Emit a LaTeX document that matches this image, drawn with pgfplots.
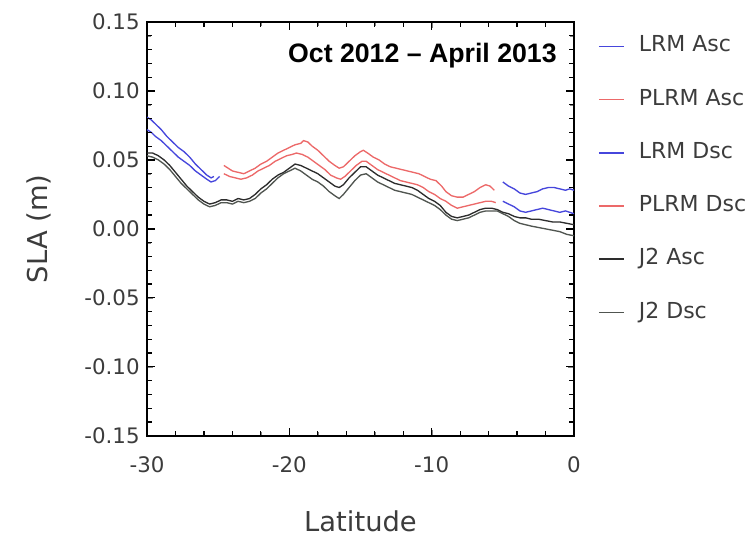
\documentclass[border=0pt]{standalone}
\usepackage{fontspec}
\setmainfont{DejaVu Sans}
\newfontfamily\titlefont{Liberation Sans}
\usepackage{pgfplots}
\pgfplotsset{compat=1.18}
\definecolor{lrm}{RGB}{70,70,220}
\definecolor{plrm}{RGB}{236,105,105}
\definecolor{jA}{RGB}{45,45,45}
\definecolor{jD}{RGB}{80,85,80}
\definecolor{txt}{RGB}{60,60,60}
\pgfkeys{/pgf/number format/assume math mode=true}
\begin{document}
\begin{tikzpicture}
\begin{axis}[
  width=320pt, height=310pt, scale only axis,
  xmin=-30, xmax=0, ymin=-0.15, ymax=0.15,
  xtick={-30,-20,-10,0}, minor x tick num=4,
  ytick={-0.15,-0.10,-0.05,0,0.05,0.10,0.15}, minor y tick num=4,
  yticklabel style={/pgf/number format/fixed, /pgf/number format/fixed zerofill, /pgf/number format/precision=2, /pgf/number format/assume math mode=true, xshift=-2pt},
  xticklabel style={/pgf/number format/assume math mode=true, yshift=-12.5pt},
  axis line style={line width=1.3pt},
  ticklabel style={font=\fontsize{16pt}{18pt}\selectfont, text=txt},
  xlabel={Latitude}, ylabel={SLA (m)},
  label style={font=\fontsize{20.5pt}{23pt}\selectfont, text=txt},
  xlabel style={at={(rel axis cs:0.5,-0.206)}, anchor=center},
  ylabel style={at={(rel axis cs:-0.253,0.5)}, anchor=center},
  unbounded coords=jump,
  legend style={draw=none, fill=none, at={(rel axis cs:1.056,0.967)}, anchor=north west,
    font=\fontsize{16.5pt}{18pt}\selectfont, text=txt, inner sep=0pt, row sep=24.4pt, column sep=10.5pt,
    nodes={inner xsep=0pt, inner ysep=0pt, text height=12pt, text depth=3.5pt}},
  legend cell align=left,
  legend image code/.code={\draw[#1, line width=1.2pt] (0pt,0pt) -- (18.75pt,0pt);},
]
% LRM Asc
\addplot[lrm, line width=1pt] coordinates {
(-30,0.081) (-29.7,0.079) (-29.4,0.076) (-29,0.072) (-28.6,0.067) (-28.2,0.063) (-27.8,0.059) (-27.4,0.056) (-27,0.052) (-26.6,0.047) (-26.2,0.043) (-25.8,0.039) (-25.5,0.037) (-25.3,0.038)
(-25.2,nan)
(-5,0.034) (-4.6,0.031) (-4.2,0.029) (-3.8,0.026) (-3.4,0.025) (-3,0.026) (-2.6,0.027) (-2.2,0.029) (-1.8,0.030) (-1.4,0.030) (-1,0.029) (-0.6,0.028) (-0.3,0.029) (0,0.028)};
\addlegendentry{LRM Asc}
% PLRM Asc
\addplot[plrm, line width=1pt] coordinates {
(-24.6,0.046) (-24.3,0.044) (-24,0.042) (-23.6,0.041) (-23.2,0.040) (-22.8,0.042) (-22.4,0.044) (-22,0.047) (-21.6,0.049) (-21.2,0.052) (-20.8,0.055) (-20.4,0.057) (-20,0.059) (-19.6,0.061) (-19.2,0.062) (-19,0.064) (-18.7,0.063) (-18.4,0.060) (-18,0.057) (-17.6,0.053) (-17.2,0.049) (-16.8,0.046) (-16.5,0.044) (-16.2,0.045) (-15.8,0.049) (-15.4,0.053) (-15,0.056) (-14.8,0.057) (-14.5,0.055) (-14.1,0.052) (-13.7,0.050) (-13.3,0.047) (-12.9,0.045) (-12.5,0.044) (-12.1,0.043) (-11.7,0.042) (-11.3,0.041) (-10.9,0.040) (-10.5,0.038) (-10.1,0.036) (-9.7,0.035) (-9.3,0.031) (-9,0.027) (-8.6,0.024) (-8.2,0.023) (-7.8,0.023) (-7.4,0.025) (-7,0.027) (-6.6,0.030) (-6.2,0.032) (-5.9,0.031) (-5.6,0.028)};
\addlegendentry{PLRM Asc}
% LRM Dsc
\addplot[lrm, line width=1pt] coordinates {
(-30,0.072) (-29.7,0.070) (-29.4,0.067) (-29,0.064) (-28.6,0.060) (-28.2,0.056) (-27.8,0.052) (-27.4,0.049) (-27,0.046) (-26.6,0.042) (-26.2,0.039) (-25.8,0.036) (-25.5,0.034) (-25.2,0.035) (-24.9,0.038)
(-24.8,nan)
(-5,0.020) (-4.6,0.018) (-4.2,0.016) (-3.8,0.013) (-3.4,0.012) (-3,0.013) (-2.6,0.014) (-2.2,0.015) (-1.8,0.014) (-1.4,0.013) (-1,0.012) (-0.6,0.013) (-0.3,0.012) (0,0.011)};
\addlegendentry{LRM Dsc}
% PLRM Dsc
\addplot[plrm, line width=1pt] coordinates {
(-24.6,0.040) (-24.2,0.038) (-23.8,0.037) (-23.4,0.036) (-23,0.037) (-22.6,0.039) (-22.2,0.042) (-21.8,0.044) (-21.4,0.046) (-21,0.049) (-20.6,0.051) (-20.2,0.053) (-19.8,0.054) (-19.5,0.055) (-19.1,0.054) (-18.7,0.052) (-18.3,0.049) (-17.9,0.046) (-17.5,0.043) (-17.1,0.039) (-16.7,0.037) (-16.4,0.036) (-16.1,0.038) (-15.7,0.042) (-15.3,0.046) (-14.9,0.049) (-14.6,0.049) (-14.2,0.046) (-13.8,0.043) (-13.4,0.041) (-13,0.039) (-12.6,0.037) (-12.2,0.035) (-11.8,0.034) (-11.4,0.033) (-11,0.032) (-10.6,0.030) (-10.2,0.027) (-9.8,0.025) (-9.4,0.022) (-9,0.020) (-8.6,0.017) (-8.2,0.015) (-7.8,0.016) (-7.4,0.017) (-7,0.018) (-6.6,0.019) (-6.2,0.020) (-5.8,0.020) (-5.5,0.019)};
\addlegendentry{PLRM Dsc}
% J2 Asc
\addplot[jA, line width=1pt] coordinates {
(-30,0.055) (-29.6,0.055) (-29.2,0.053) (-28.8,0.050) (-28.4,0.046) (-28,0.041) (-27.6,0.036) (-27.2,0.031) (-26.8,0.027) (-26.4,0.023) (-26,0.020) (-25.6,0.018) (-25.2,0.019) (-24.8,0.021) (-24.4,0.021) (-24,0.020) (-23.6,0.022) (-23.2,0.021) (-22.8,0.022) (-22.4,0.025) (-22,0.029) (-21.6,0.032) (-21.2,0.036) (-20.8,0.039) (-20.4,0.041) (-20,0.044) (-19.6,0.047) (-19.2,0.046) (-18.8,0.044) (-18.4,0.042) (-18,0.040) (-17.6,0.037) (-17.2,0.034) (-16.8,0.031) (-16.5,0.030) (-16.2,0.032) (-15.8,0.037) (-15.4,0.041) (-15,0.045) (-14.6,0.045) (-14.2,0.042) (-13.8,0.039) (-13.4,0.037) (-13,0.035) (-12.6,0.033) (-12.2,0.032) (-11.8,0.031) (-11.4,0.030) (-11,0.028) (-10.6,0.025) (-10.2,0.022) (-9.8,0.020) (-9.4,0.017) (-9,0.012) (-8.6,0.009) (-8.2,0.008) (-7.8,0.009) (-7.4,0.010) (-7,0.012) (-6.6,0.014) (-6.2,0.015) (-5.8,0.015) (-5.4,0.014) (-5,0.012) (-4.6,0.011) (-4.2,0.009) (-3.8,0.008) (-3.4,0.008) (-3,0.007) (-2.5,0.007) (-2,0.006) (-1.5,0.005) (-1,0.005) (-0.5,0.004) (0,0.003)};
\addlegendentry{J2 Asc}
% J2 Dsc
\addplot[jD, line width=1pt] coordinates {
(-30,0.053) (-29.6,0.052) (-29.2,0.050) (-28.8,0.047) (-28.4,0.043) (-28,0.038) (-27.6,0.033) (-27.2,0.029) (-26.8,0.025) (-26.4,0.021) (-26,0.018) (-25.6,0.016) (-25.2,0.017) (-24.8,0.019) (-24.4,0.019) (-24,0.018) (-23.6,0.020) (-23.2,0.019) (-22.8,0.020) (-22.4,0.022) (-22,0.026) (-21.6,0.029) (-21.2,0.033) (-20.8,0.037) (-20.4,0.040) (-20,0.042) (-19.6,0.044) (-19.2,0.042) (-18.8,0.039) (-18.4,0.036) (-18,0.034) (-17.6,0.031) (-17.2,0.027) (-16.8,0.024) (-16.5,0.022) (-16.2,0.025) (-15.8,0.030) (-15.4,0.035) (-15,0.039) (-14.6,0.040) (-14.2,0.037) (-13.8,0.034) (-13.4,0.032) (-13,0.030) (-12.6,0.028) (-12.2,0.027) (-11.8,0.026) (-11.4,0.025) (-11,0.023) (-10.6,0.021) (-10.2,0.019) (-9.8,0.017) (-9.4,0.014) (-9,0.010) (-8.6,0.007) (-8.2,0.006) (-7.8,0.007) (-7.4,0.008) (-7,0.010) (-6.6,0.012) (-6.2,0.013) (-5.8,0.013) (-5.4,0.013) (-5,0.011) (-4.6,0.009) (-4.2,0.006) (-3.8,0.004) (-3.4,0.003) (-3,0.002) (-2.5,0.001) (-2,0.000) (-1.5,-0.001) (-1,-0.002) (-0.5,-0.004) (0,-0.005)};
\addlegendentry{J2 Dsc}
% tick marks on all four sides
\pgfplotsinvokeforeach{-28,-26,-24,-22,-18,-16,-14,-12,-8,-6,-4,-2}{
  \draw[black, line width=0.9pt] (axis cs:#1,-0.15) -- ++(0pt,3.6pt);
  \draw[black, line width=0.9pt] (axis cs:#1,0.15) -- ++(0pt,-3.6pt);
}
\pgfplotsinvokeforeach{-20,-10}{
  \draw[black, line width=1pt] (axis cs:#1,-0.15) -- ++(0pt,6pt);
  \draw[black, line width=1pt] (axis cs:#1,0.15) -- ++(0pt,-6pt);
}
\pgfplotsinvokeforeach{-0.14,-0.13,-0.12,-0.11,-0.09,-0.08,-0.07,-0.06,-0.04,-0.03,-0.02,-0.01,0.01,0.02,0.03,0.04,0.06,0.07,0.08,0.09,0.11,0.12,0.13,0.14}{
  \draw[black, line width=0.9pt] (axis cs:-30,#1) -- ++(3.6pt,0pt);
  \draw[black, line width=0.9pt] (axis cs:0,#1) -- ++(-3.6pt,0pt);
}
\pgfplotsinvokeforeach{-0.10,-0.05,0,0.05,0.10}{
  \draw[black, line width=1pt] (axis cs:-30,#1) -- ++(6pt,0pt);
  \draw[black, line width=1pt] (axis cs:0,#1) -- ++(-6pt,0pt);
}
\node[anchor=base east, font=\titlefont\bfseries\fontsize{20pt}{23pt}\selectfont, inner sep=0pt] at (rel axis cs:0.960,0.903) {Oct 2012 – April 2013};
\coordinate (bbnw) at (rel axis cs:-0.3443,1.0533);
\coordinate (bbse) at (rel axis cs:1.4098,-0.2349);
\end{axis}
\path (bbnw) rectangle (bbse);
\end{tikzpicture}
\end{document}
